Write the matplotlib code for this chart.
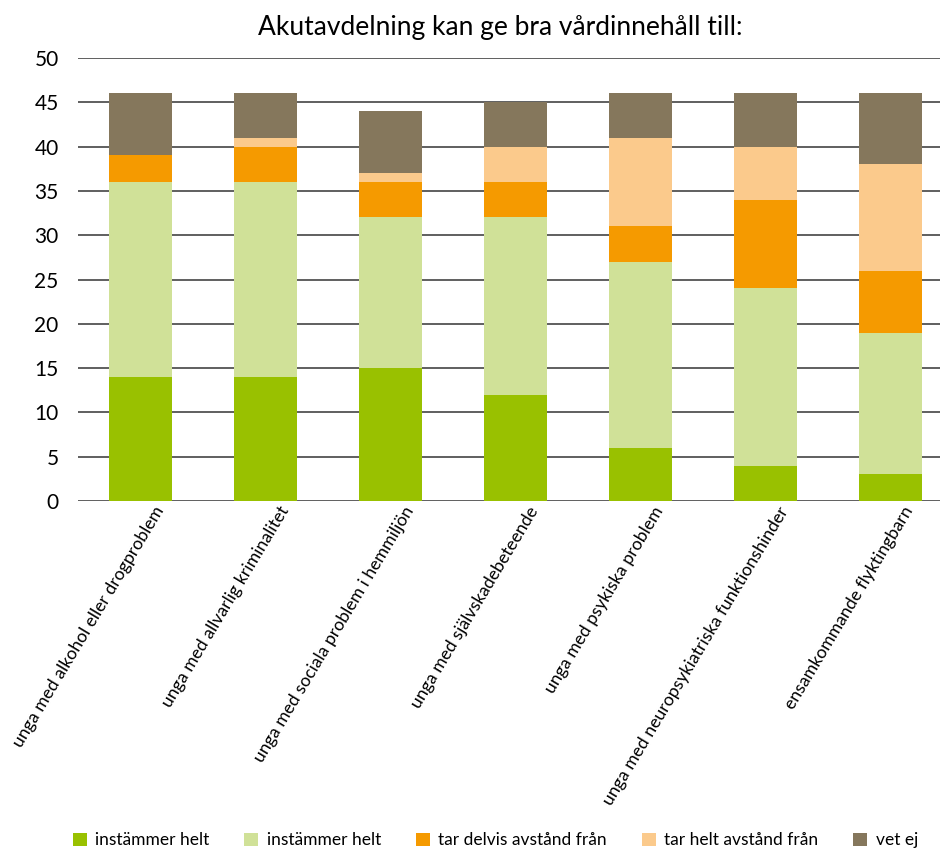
import numpy as np
import matplotlib.pyplot as plt

plt.rcParams['font.family'] = ['Lato', 'DejaVu Sans']

# --- Data ---
categories = [
    "unga med alkohol eller drogproblem",
    "unga med allvarlig kriminalitet",
    "unga med sociala problem i hemmiljön",
    "unga med självskadebeteende",
    "unga med psykiska problem",
    "unga med neuropsykiatriska funktionshinder",
    "ensamkommande flyktingbarn",
]
series_names = ["instämmer helt", "instämmer helt", "tar delvis avstånd från",
                "tar helt avstånd från", "vet ej"]
instammer_helt = [14, 14, 15, 12, 6, 4, 3]
instammer_delvis = [22, 22, 17, 20, 21, 20, 16]
tar_delvis_avstand = [3, 4, 4, 4, 4, 10, 7]
tar_helt_avstand = [0, 1, 1, 4, 10, 6, 12]
vet_ej = [7, 5, 7, 5, 5, 6, 8]
yticks = [0, 5, 10, 15, 20, 25, 30, 35, 40, 45, 50]

colors = ["#99C100", "#D0E198", "#F59A00", "#FBCA8C", "#85775C"]
series = [instammer_helt, instammer_delvis, tar_delvis_avstand, tar_helt_avstand, vet_ej]

# --- Plot ---
fig = plt.figure(figsize=(9.4, 8.48), dpi=100)
ax = fig.add_axes([78 / 940, (848 - 501) / 848, 875 / 940, 443 / 848])

x = np.arange(len(categories))
bottom = np.zeros(len(categories))
for name, vals, c in zip(series_names, series, colors):
    ax.bar(x, vals, 0.5, bottom=bottom, color=c, label=name, zorder=3)
    bottom += np.array(vals)

ax.set_xlim(-0.5, len(categories) - 0.5)
ax.set_ylim(0, 50)
ax.set_yticks(yticks)
ax.yaxis.grid(True, color="#444444", linewidth=1.2, zorder=0)
ax.set_axisbelow(True)
for s in ax.spines.values():
    s.set_visible(False)
ax.tick_params(axis="y", length=0, labelsize=15, pad=14)
ax.tick_params(axis="x", length=0, pad=2)
ax.set_xticks(x + 0.1)
ax.set_xticklabels(categories, rotation=59, ha="right", va="top",
                   rotation_mode="anchor", fontsize=12.7)

fig.text(0.532, 0.968, "Akutavdelning kan ge bra vårdinnehåll till:",
         ha="center", va="center", fontsize=19)

fig.legend(loc="lower center", ncol=5, frameon=False, fontsize=12.5,
           bbox_to_anchor=(0.527, -0.019), handlelength=0.8, handleheight=0.8,
           columnspacing=2.0, handletextpad=0.5)

fig.savefig("out.png", dpi=100)
